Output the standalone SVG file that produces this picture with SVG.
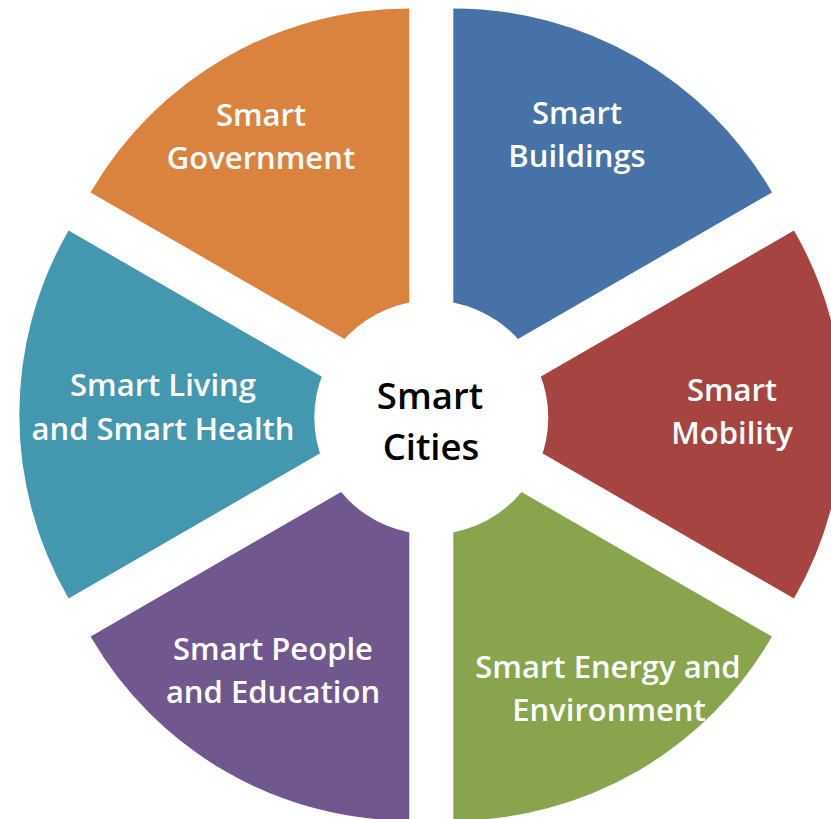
<svg xmlns="http://www.w3.org/2000/svg" width="831" height="819" viewBox="0 0 831 819">
<style>
.lbl{font-family:"Open Sans","Noto Sans","Liberation Sans",sans-serif;font-weight:600;font-size:31px;fill:#ffffff;text-anchor:middle}
.ctr{font-family:"Open Sans","Noto Sans","Liberation Sans",sans-serif;font-weight:600;font-size:36.5px;fill:#000000;text-anchor:middle}
</style>
<rect width="831" height="819" fill="#ffffff"/>
<g id="buildings">
<path d="M453.3,376.4 L453.3,8.4 A368,368 0 0,1 772.0,192.4 Z" fill="#4672A7"/>
<text class="lbl" x="577" y="124">Smart</text>
<text class="lbl" x="577" y="167">Buildings</text>
</g>
<g id="mobility">
<path d="M475.3,414.5 L794.0,230.5 A368,368 0 0,1 794.0,598.5 Z" fill="#A64441"/>
<text class="lbl" x="732" y="401">Smart</text>
<text class="lbl" x="732" y="444">Mobility</text>
</g>
<g id="energy">
<path d="M453.3,452.6 L772.0,636.6 A368,368 0 0,1 453.3,820.6 Z" fill="#88A54E"/>
<text class="lbl" x="608" y="678">Smart Energy and</text>
<text class="lbl" x="609" y="721">Environment</text>
</g>
<g id="people">
<path d="M409.3,452.6 L409.3,820.6 A368,368 0 0,1 90.6,636.6 Z" fill="#70588F"/>
<text class="lbl" x="273" y="660">Smart People</text>
<text class="lbl" x="273" y="703">and Education</text>
</g>
<g id="living">
<path d="M387.3,414.5 L68.6,598.5 A368,368 0 0,1 68.6,230.5 Z" fill="#4398AF"/>
<text class="lbl" x="163" y="396">Smart Living</text>
<text class="lbl" x="163" y="440">and Smart Health</text>
</g>
<g id="government">
<path d="M409.3,376.4 L90.6,192.4 A368,368 0 0,1 409.3,8.4 Z" fill="#DA833E"/>
<text class="lbl" x="261" y="126">Smart</text>
<text class="lbl" x="261" y="169">Government</text>
</g>
<g id="center">
<circle cx="431.3" cy="417.5" r="117" fill="#ffffff"/>
<text class="ctr" x="430" y="409">Smart</text>
<text class="ctr" x="431" y="460">Cities</text>
</g>
<g id="connectors"></g>
</svg>
